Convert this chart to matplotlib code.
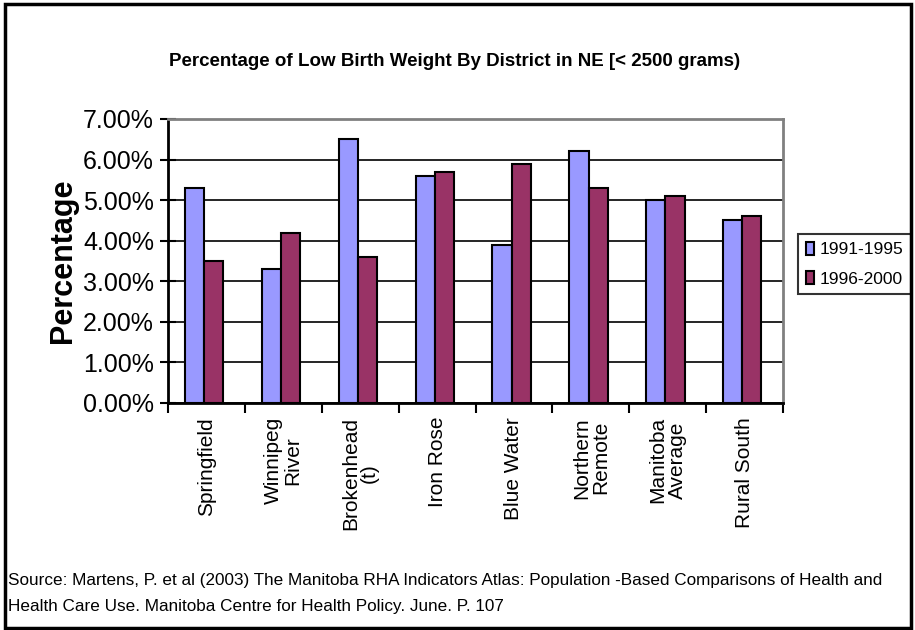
import matplotlib
matplotlib.use("Agg")
import matplotlib.pyplot as plt
import numpy as np
from matplotlib.patches import Rectangle
from matplotlib.ticker import FuncFormatter, FixedLocator

categories = ["Springfield", "Winnipeg\nRiver", "Brokenhead\n(t)", "Iron Rose",
              "Blue Water", "Northern\nRemote", "Manitoba\nAverage", "Rural South"]
series_names = ["1991-1995", "1996-2000"]
values_1991 = [5.3, 3.3, 6.5, 5.6, 3.9, 6.2, 5.0, 4.5]
values_1996 = [3.5, 4.2, 3.6, 5.7, 5.9, 5.3, 5.1, 4.6]
yticks = [0, 1, 2, 3, 4, 5, 6, 7]

colors = ["#9999FF", "#993366"]

plt.rcParams['font.family'] = ['Liberation Sans', 'DejaVu Sans']

W, H = 915, 630
fig = plt.figure(figsize=(W / 100, H / 100), dpi=100)

# plot area in pixels
left, top, right, bottom = 168, 119, 783, 403
ax = fig.add_axes([left / W, 1 - bottom / H, (right - left) / W, (bottom - top) / H])

n = len(categories)
x = np.arange(n) + 0.5
bw = 0.25
ax.bar(x - bw / 2 - 0.03, values_1991, width=bw, color=colors[0], edgecolor="black",
       linewidth=1.5, label=series_names[0], zorder=3)
ax.bar(x + bw / 2 - 0.03, values_1996, width=bw, color=colors[1], edgecolor="black",
       linewidth=1.5, label=series_names[1], zorder=3)

ax.set_xlim(0, n)
ax.set_ylim(0, 7)
ax.set_yticks(yticks)
ax.yaxis.set_major_formatter(FuncFormatter(lambda v, p: f"{v:.2f}%"))
ax.tick_params(axis="y", direction="inout", length=12, width=1.5, labelsize=18, pad=4)
ax.grid(axis="y", color="black", linewidth=1.2, zorder=0)
ax.set_axisbelow(True)

ax.xaxis.set_major_locator(FixedLocator(np.arange(n + 1)))
ax.xaxis.set_major_formatter(FuncFormatter(lambda v, p: ""))
ax.xaxis.set_minor_locator(FixedLocator(x))
ax.set_xticklabels(categories, minor=True, rotation=90, fontsize=15,
                   va="top", ha="center", multialignment="center", linespacing=1.0)
ax.tick_params(axis="x", which="major", direction="out", length=7, width=1.5)
ax.tick_params(axis="x", which="minor", length=0, pad=10)

for s in ["left", "bottom"]:
    ax.spines[s].set_color("black")
    ax.spines[s].set_linewidth(2)
for s in ["top", "right"]:
    ax.spines[s].set_color("#808080")
    ax.spines[s].set_linewidth(2)

ax.set_ylabel("Percentage", fontsize=22, fontweight="bold", labelpad=4)

leg = ax.legend(loc="upper left", bbox_to_anchor=((798 - left) / (right - left), 1 - (234 - top) / (bottom - top)),
                frameon=True, fancybox=False, edgecolor="black", fontsize=12.5,
                handlelength=0.45, handleheight=0.75, handletextpad=0.35,
                borderpad=0.45, labelspacing=0.8, borderaxespad=0)
leg.get_frame().set_linewidth(1.5)

fig.text(455 / W, 1 - 62 / H, "Percentage of Low Birth Weight By District in NE [< 2500 grams)",
         ha="center", va="center", fontsize=13.5, fontweight="bold")

fig.text(8 / W, 1 - 580 / H,
         "Source: Martens, P. et al (2003) The Manitoba RHA Indicators Atlas: Population -Based Comparisons of Health and",
         ha="left", va="center", fontsize=12.3)
fig.text(8 / W, 1 - 606 / H,
         "Health Care Use. Manitoba Centre for Health Policy. June. P. 107",
         ha="left", va="center", fontsize=12.3)

fig.patches.append(Rectangle((5 / W, 2 / H), (906) / W, (624) / H, transform=fig.transFigure,
                             fill=False, edgecolor="black", linewidth=2.5))

fig.savefig("out.png", dpi=100)
